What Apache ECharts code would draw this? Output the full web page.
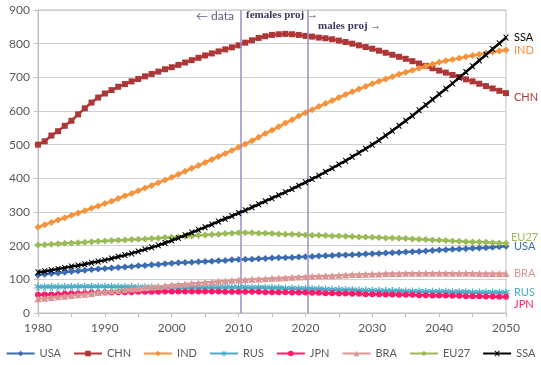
<!DOCTYPE html>
<html><head><meta charset="utf-8">
<script src="https://cdn.jsdelivr.net/npm/echarts@6/dist/echarts.min.js"></script>
<style>html,body{margin:0;padding:0;background:#fff}#c{width:541px;height:365px}</style>
</head><body><div id="c"></div>
<script>
const years = [];
for (let y = 1980; y <= 2050; y++) years.push(y);
const yTicks = [0,100,200,300,400,500,600,700,800,900];
const xTicks = [1980,1990,2000,2010,2020,2030,2040,2050];
const splitYears = [2010.35, 2020.35];

const USA = [113,115,117,119,121,123,125,127,129,131, 132,134,135,137,138,140,141,143,144,146, 148,149,150,151,152,153,154,155,156,158, 159,160,160,161,162,163,164,164,165,166, 167,168,169,170,171,172,172,173,174,175, 176,177,178,179,180,181,182,183,184,186, 187,188,189,190,191,192,193,194,195,197, 198];
const CHN = [500,510,527,540,556,571,590,608,625,640, 652,662,672,680,688,695,703,710,717,724, 730,737,744,751,758,765,771,777,783,789, 795,803,810,817,822,826,828,829,828,826, 823,821,818,816,813,809,805,800,795,790, 785,779,773,767,761,755,748,741,734,727, 720,714,707,701,694,688,681,674,667,660, 653];
const IND = [255,262,269,276,283,290,297,304,311,318, 325,332,340,348,355,363,371,379,387,395, 403,412,421,430,438,447,456,465,474,483, 492,502,512,522,533,543,553,564,574,585, 595,604,613,622,631,640,649,657,665,673, 681,688,695,702,709,715,721,727,733,739, 745,749,753,757,761,765,768,772,775,778, 781];
const RUS = [77,77,77,77,77,78,78,78,78,78, 78,78,77,77,77,76,76,76,75,75, 75,75,75,75,75,75,76,76,76,76, 76,76,75,75,75,74,74,73,73,72, 72,71,71,70,69,69,68,68,67,67, 66,66,65,65,65,64,64,64,63,63, 63,63,62,62,62,61,61,61,61,60, 60];
const JPN = [54,55,55,56,57,58,58,59,60,60, 61,61,62,62,62,63,63,63,63,64, 64,64,64,64,64,64,64,64,63,63, 63,63,63,63,62,62,62,62,61,61, 61,60,60,59,59,58,58,57,57,56, 56,56,55,55,54,54,54,53,53,52, 52,52,51,51,50,50,50,49,49,48, 48];
const BRA = [42,44,46,48,50,52,54,56,58,61, 63,65,67,69,71,73,75,77,79,81, 83,85,86,88,89,91,92,94,95,97, 98,99,100,101,102,103,104,105,106,107, 108,109,110,111,111,112,113,114,114,115, 116,116,117,117,117,118,118,118,118,118, 118,118,118,118,118,118,117,117,117,117, 117];
const EU27 = [202,203,204,206,207,208,209,210,212,213, 214,215,216,217,218,219,220,221,222,224, 225,226,228,229,231,232,233,234,236,237, 238,238,238,237,237,236,235,234,234,233, 232,231,231,230,229,229,228,227,226,226, 225,224,223,223,222,221,220,219,218,217, 216,215,214,213,212,211,211,210,209,208, 207];
const SSA = [121,124,127,131,134,138,141,145,149,153, 157,162,167,172,177,183,189,195,201,208, 215,223,231,239,247,255,263,272,280,288, 297,305,314,323,332,341,350,359,368,378, 388,398,408,419,430,441,452,464,476,488, 500,513,527,541,556,571,586,602,618,634, 650,666,682,699,716,733,750,767,784,801, 818];

const xMark = 'path://M0,0L2,0L5,3L8,0L10,0L6,5L10,10L8,10L5,7L2,10L0,10L4,5Z';
const starMark = 'path://M4.2,0L5.8,0L5.8,3.4L8.6,1.2L9.6,2.4L6.6,4.9L10,5.8L9.5,7.2L6,6.2L7.4,9.4L6,10L5,6.8L4,10L2.6,9.4L4,6.2L0.5,7.2L0,5.8L3.4,4.9L0.4,2.4L1.4,1.2L4.2,3.4Z';

const defs = [
  {name:'USA', data:USA, color:'#3C6CB2', symbol:'diamond', size:7, off:[0,0]},
  {name:'CHN', data:CHN, color:'#AE3636', symbol:'rect', size:6, off:[0,4]},
  {name:'IND', data:IND, color:'#F7923A', symbol:'diamond', size:7, off:[0,0]},
  {name:'RUS', data:RUS, color:'#4BACC6', symbol:starMark, size:8, off:[0,0]},
  {name:'JPN', data:JPN, color:'#FF1A6C', symbol:'circle', size:6, off:[0,8]},
  {name:'BRA', data:BRA, color:'#D99694', symbol:'triangle', size:7, off:[0,0]},
  {name:'EU27', data:EU27, color:'#9BBB59', symbol:'diamond', size:7, off:[-3,-6]},
  {name:'SSA', data:SSA, color:'#000000', symbol:xMark, size:6, off:[0,0]}
];

const font = 'Lato, "Open Sans", sans-serif';
const series = defs.map((d, i) => ({
  name: d.name, type: 'line',
  data: years.map((y, k) => [y, d.data[k]]),
  symbol: d.symbol, symbolSize: d.size, showSymbol: true,
  lineStyle: {color: d.color, width: 2.5},
  itemStyle: {color: d.color},
  emphasis: {disabled: true},
  animation: false, z: 2 + i,
  endLabel: {show: true, formatter: d.name, color: d.color, fontSize: 11, fontFamily: font, distance: 8, offset: d.off}
}));
series.push({
  type: 'line', data: [], silent: true,
  markLine: {
    symbol: 'none', silent: true, animation: false,
    lineStyle: {color: '#9D8CC9', width: 1.5, type: 'solid'},
    label: {show: false},
    data: splitYears.map(v => ({xAxis: v}))
  }
});

const chart = echarts.init(document.getElementById('c'), null, {renderer: 'canvas'});
chart.setOption({
  animation: false,
  grid: {left: 38, right: 35, top: 10, bottom: 52, show: true, borderColor: '#BFBFBF', borderWidth: 1},
  xAxis: {
    type: 'value', min: 1980, max: 2050, interval: 5,
    axisLine: {lineStyle: {color: '#BFBFBF', width: 1}},
    axisTick: {show: true, length: 4, lineStyle: {color: '#BFBFBF'}},
    splitLine: {show: false},
    axisLabel: {color: '#595959', fontSize: 12, fontFamily: font, margin: 9,
      formatter: v => xTicks.indexOf(v) >= 0 ? String(v) : ''}
  },
  yAxis: {
    type: 'value', min: 0, max: 900, interval: 100,
    axisLine: {show: true, lineStyle: {color: '#BFBFBF', width: 1}},
    axisTick: {show: true, length: 4, lineStyle: {color: '#BFBFBF'}},
    splitLine: {show: true, lineStyle: {color: '#D0D0D0', width: 1}},
    axisLabel: {color: '#595959', fontSize: 12, fontFamily: font, margin: 8,
      formatter: v => yTicks.indexOf(v) >= 0 ? String(v) : ''}
  },
  legend: {
    data: defs.map(d => d.name), bottom: 6, left: 'center', padding: 0,
    itemWidth: 28, itemHeight: 7, itemGap: 12,
    textStyle: {color: '#595959', fontSize: 11, fontFamily: font}
  },
  graphic: [
    {type: 'text', left: 196, top: 10, style: {text: '\u2190 data', fill: '#5E5C84', font: '12px ' + font}},
    {type: 'text', left: 246, top: 10, style: {text: 'females proj \u2192', fill: '#3B3A5E', font: 'bold 11px "Liberation Serif", serif'}},
    {type: 'text', left: 318, top: 21, style: {text: 'males proj \u2192', fill: '#3B3A5E', font: 'bold 11px "Liberation Serif", serif'}}
  ],
  series: series
});
</script></body></html>
